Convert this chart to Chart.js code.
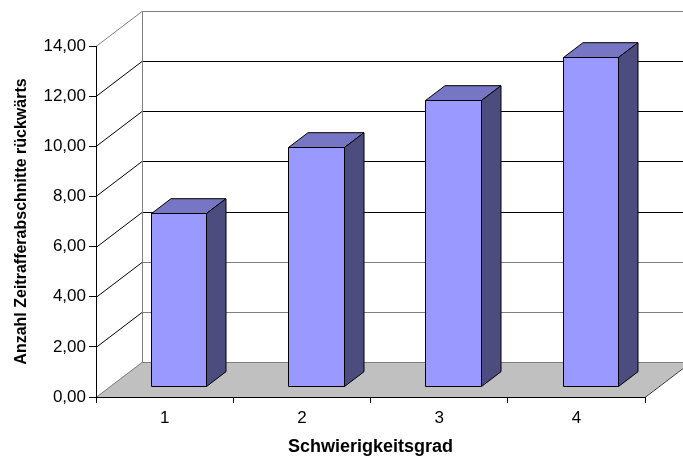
<!DOCTYPE html>
<html>
<head>
<meta charset="utf-8">
<script src="https://cdn.jsdelivr.net/npm/chart.js@4/dist/chart.umd.min.js"></script>
<style>
  html, body { margin: 0; padding: 0; background: #fff; }
  canvas { display: block; }
</style>
</head>
<body>
<canvas id="c" width="683" height="460"></canvas>
<script>
// ---- data ----
const categories = ['1', '2', '3', '4'];
const values = [6.92, 9.52, 11.39, 13.13];
const yTicks = [0, 2, 4, 6, 8, 10, 12, 14];
const xTitle = 'Schwierigkeitsgrad';
const yTitle = 'Anzahl Zeitrafferabschnitte rückwärts';

// ---- styling ----
const FONT = "'Liberation Sans', Arial, sans-serif";
const WALL_DX = 46, WALL_DY = -35;     // depth of the 3D box
const BAR_DX = 14, BAR_DY = -11;       // bar front plane offset into depth
const BAR_DEPTH_DX = 19.5, BAR_DEPTH_DY = -14.8;
const COL_FRONT = '#9999FF', COL_TOP = '#7676C4', COL_SIDE = '#4C4C7F';

const box3d = {
  id: 'box3d',
  beforeDraw(chart) {
    const ctx = chart.ctx;
    const y = chart.scales.y;
    const L = chart.chartArea.left, R = chart.chartArea.right;
    const B = y.getPixelForValue(0);
    const T = y.getPixelForValue(y.max);
    ctx.save();
    ctx.fillStyle = '#fff';
    ctx.fillRect(0, 0, chart.width, chart.height);
    // floor
    ctx.beginPath();
    ctx.moveTo(L, B);
    ctx.lineTo(R, B);
    ctx.lineTo(R + WALL_DX, B + WALL_DY);
    ctx.lineTo(L + WALL_DX, B + WALL_DY);
    ctx.closePath();
    ctx.fillStyle = '#C0C0C0';
    ctx.fill();
    ctx.lineWidth = 1;
    // gridlines on left wall + back wall
    yTicks.forEach(v => {
      const py = Math.round(y.getPixelForValue(v)) + 0.5;
      const edge = (v === 0 || v === y.max);
      ctx.strokeStyle = edge ? '#808080' : '#000';
      ctx.beginPath();
      ctx.moveTo(L, py);
      ctx.lineTo(L + WALL_DX, py + WALL_DY);
      ctx.stroke();
      ctx.strokeStyle = (edge || v < 6) ? '#808080' : '#000';
      ctx.beginPath();
      ctx.moveTo(L + WALL_DX, py + WALL_DY);
      ctx.lineTo(R + WALL_DX + 2, py + WALL_DY);
      ctx.stroke();
    });
    // back wall left edge
    ctx.strokeStyle = '#808080';
    ctx.beginPath();
    ctx.moveTo(L + WALL_DX + 0.5, Math.round(T) + WALL_DY + 0.5);
    ctx.lineTo(L + WALL_DX + 0.5, Math.round(B) + WALL_DY + 0.5);
    ctx.stroke();
    // floor right edge
    ctx.strokeStyle = '#333';
    ctx.beginPath();
    ctx.moveTo(R, Math.round(B) + 0.5);
    ctx.lineTo(R + WALL_DX, Math.round(B) + 0.5 + WALL_DY);
    ctx.stroke();
    ctx.restore();
  },
  beforeDatasetDraw(chart, args) {
    const ctx = chart.ctx;
    const meta = chart.getDatasetMeta(args.index);
    ctx.save();
    ctx.lineWidth = 1;
    ctx.strokeStyle = '#000';
    ctx.lineJoin = 'miter';
    meta.data.forEach(bar => {
      const p = bar.getProps(['x', 'y', 'base', 'width'], true);
      const x0 = Math.round(p.x - p.width / 2 + BAR_DX) + 0.5;
      const x1 = Math.round(p.x + p.width / 2 + BAR_DX) + 0.5;
      const yt = Math.round(p.y + BAR_DY) + 0.5;
      const yb = Math.round(p.base + BAR_DY) + 0.5;
      const dx = BAR_DEPTH_DX, dy = BAR_DEPTH_DY;
      // front
      ctx.fillStyle = COL_FRONT;
      ctx.beginPath();
      ctx.rect(x0, yt, x1 - x0, yb - yt);
      ctx.fill(); ctx.stroke();
      // top
      ctx.fillStyle = COL_TOP;
      ctx.beginPath();
      ctx.moveTo(x0, yt);
      ctx.lineTo(x0 + dx, yt + dy);
      ctx.lineTo(x1 + dx, yt + dy);
      ctx.lineTo(x1, yt);
      ctx.closePath();
      ctx.fill(); ctx.stroke();
      // side
      ctx.fillStyle = COL_SIDE;
      ctx.beginPath();
      ctx.moveTo(x1, yt);
      ctx.lineTo(x1 + dx, yt + dy);
      ctx.lineTo(x1 + dx, yb + dy);
      ctx.lineTo(x1, yb);
      ctx.closePath();
      ctx.fill(); ctx.stroke();
    });
    ctx.restore();
    return false;
  }
};

new Chart(document.getElementById('c'), {
  type: 'bar',
  data: {
    labels: categories,
    datasets: [{
      data: values,
      backgroundColor: COL_FRONT,
      borderColor: '#000',
      borderWidth: 1,
      categoryPercentage: 1.0,
      barPercentage: 0.405
    }]
  },
  options: {
    responsive: false,
    devicePixelRatio: 1,
    animation: false,
    events: [],
    layout: { padding: { top: 46, right: 38, left: 0, bottom: 0 } },
    plugins: { legend: { display: false }, tooltip: { enabled: false } },
    scales: {
      x: {
        type: 'category',
        offset: true,
        grid: { offset: true, drawOnChartArea: false, drawTicks: true, tickLength: 6, color: '#000', lineWidth: 1 },
        border: { display: true, color: '#000', width: 1 },
        ticks: { color: '#000', font: { family: FONT, size: 17 }, padding: 5 },
        title: { display: true, text: xTitle, color: '#000', font: { family: FONT, size: 18, weight: 'bold' }, padding: { top: 0, bottom: 2 } },
        afterFit(scale) { scale.height = 63; }
      },
      y: {
        min: 0,
        max: 14,
        afterBuildTicks(scale) { scale.ticks = yTicks.map(v => ({ value: v })); },
        grid: { drawOnChartArea: false, drawTicks: true, tickLength: 7, color: '#000', lineWidth: 1 },
        border: { display: true, color: '#000', width: 1 },
        ticks: { color: '#000', font: { family: FONT, size: 17 }, padding: 3,
                 callback: v => v.toFixed(2).replace('.', ',') },
        title: { display: true, text: yTitle, color: '#000', font: { family: FONT, size: 16, weight: 'bold' }, padding: { top: 12, bottom: 0 } },
        afterFit(scale) { scale.width = 96; }
      }
    }
  },
  plugins: [box3d]
});
</script>
</body>
</html>
